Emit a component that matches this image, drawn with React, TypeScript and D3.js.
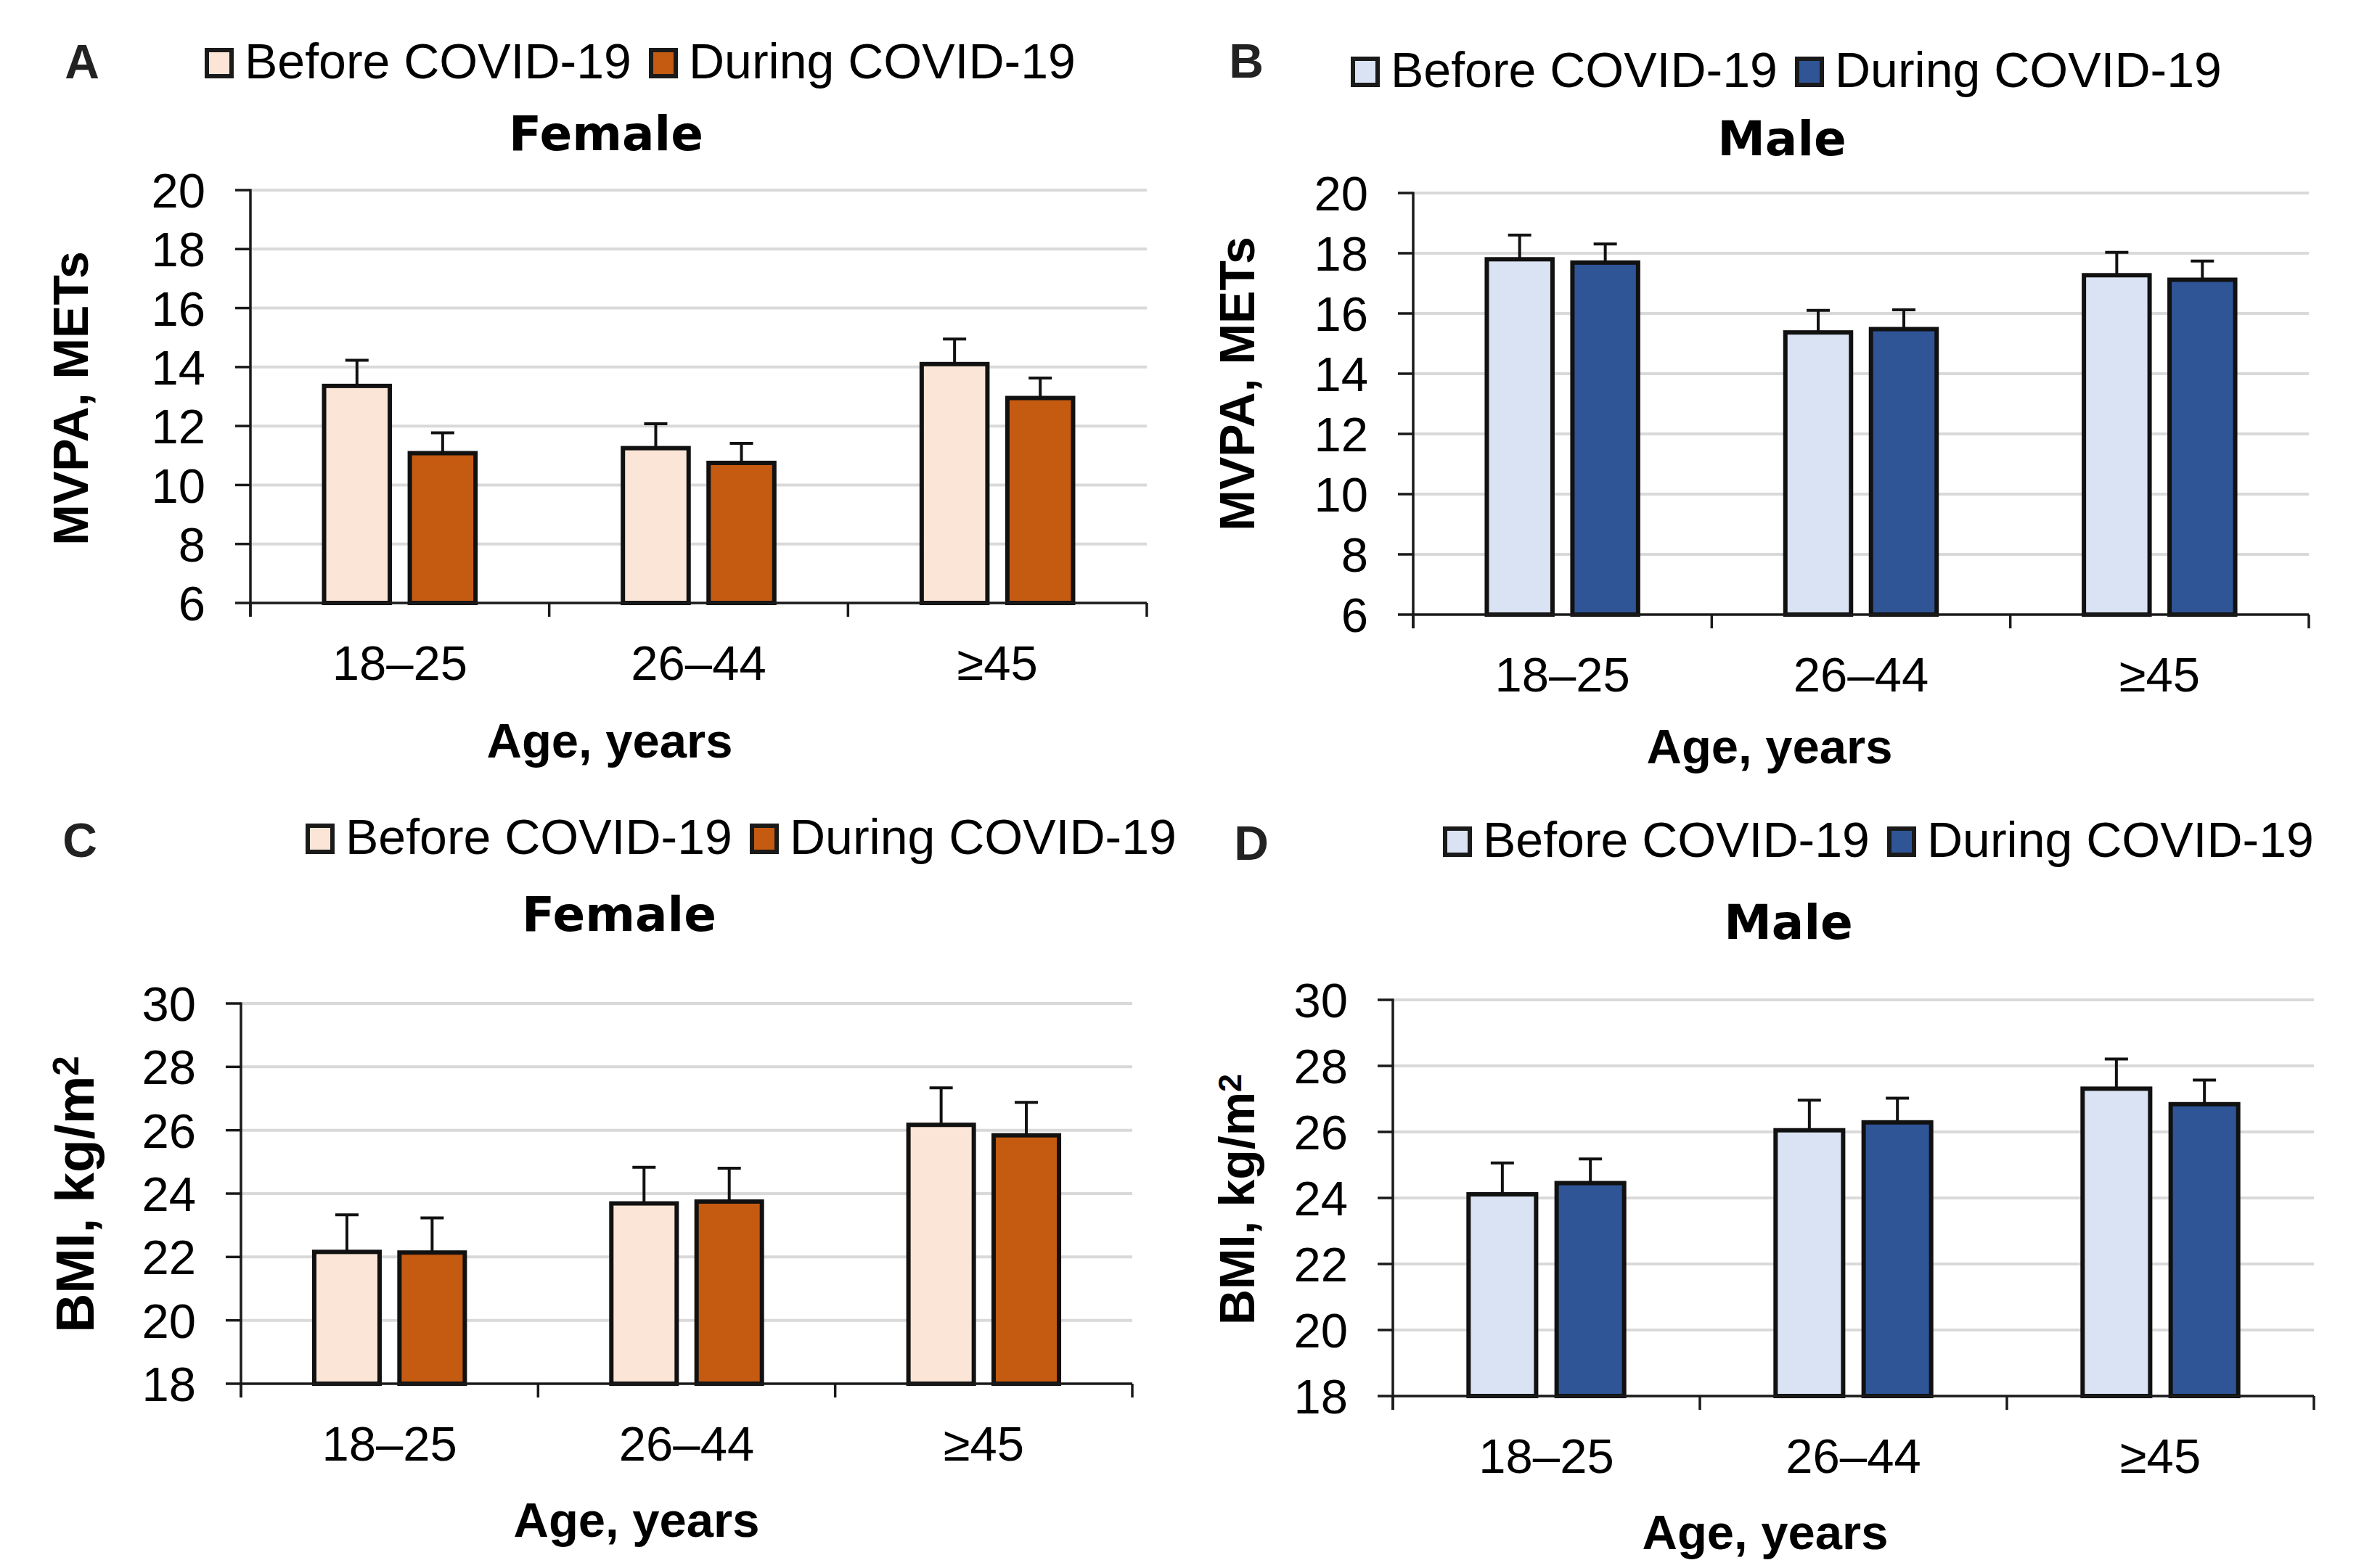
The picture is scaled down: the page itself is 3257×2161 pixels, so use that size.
import React from "react";
import * as d3 from "d3";

// ---------- data ----------
const categories = ["18–25", "26–44", "≥45"];
const seriesNames = ["Before COVID-19", "During COVID-19"];
const mvpaTicks = [6, 8, 10, 12, 14, 16, 18, 20];
const bmiTicks = [18, 20, 22, 24, 26, 28, 30];

const femaleMvpaBefore = [13.36, 11.25, 14.1];
const femaleMvpaBeforeErr = [0.87, 0.83, 0.85];
const femaleMvpaDuring = [11.08, 10.75, 12.95];
const femaleMvpaDuringErr = [0.69, 0.66, 0.68];

const maleMvpaBefore = [17.8, 15.37, 17.27];
const maleMvpaBeforeErr = [0.8, 0.73, 0.76];
const maleMvpaDuring = [17.69, 15.48, 17.12];
const maleMvpaDuringErr = [0.62, 0.64, 0.62];

const femaleBmiBefore = [22.16, 23.69, 26.17];
const femaleBmiBeforeErr = [1.17, 1.14, 1.17];
const femaleBmiDuring = [22.14, 23.75, 25.84];
const femaleBmiDuringErr = [1.09, 1.05, 1.04];

const maleBmiBefore = [24.11, 26.05, 27.31];
const maleBmiBeforeErr = [0.95, 0.91, 0.9];
const maleBmiDuring = [24.45, 26.29, 26.84];
const maleBmiDuringErr = [0.73, 0.73, 0.73];

// ---------- style ----------
const FONT = "'Liberation Sans', Arial, sans-serif";
const TITLE_FONT = "'DejaVu Sans', sans-serif";
const ORANGE = ["#fbe5d6", "#c55a11"];
const BLUE = ["#dae3f3", "#2f5597"];
const INK = "#111111";

type Panel = {
  letter: string;
  letterX: number;
  letterY: number;
  title: string;
  titleX: number;
  titleY: number;
  legendX: number;
  legendY: number;
  x0: number;
  x1: number;
  yTop: number;
  yBot: number;
  ticks: number[];
  yLabel: string;
  sup: boolean;
  yLabelX: number;
  yLabelY: number;
  yLabelSize: number;
  xTitleX: number;
  xTitleY: number;
  colors: string[];
  values: number[][];
  errors: number[][];
};

const panels: Panel[] = [
  {
    letter: "A", letterX: 113, letterY: 84,
    title: "Female", titleX: 835, titleY: 207,
    legendX: 282, legendY: 87,
    x0: 345, x1: 1580, yTop: 262, yBot: 831,
    ticks: mvpaTicks, yLabel: "MVPA, METs", sup: false,
    yLabelX: 97, yLabelY: 549, yLabelSize: 68,
    xTitleX: 840, xTitleY: 1044,
    colors: ORANGE,
    values: [femaleMvpaBefore, femaleMvpaDuring],
    errors: [femaleMvpaBeforeErr, femaleMvpaDuringErr],
  },
  {
    letter: "B", letterX: 1717, letterY: 83,
    title: "Male", titleX: 2455, titleY: 214,
    legendX: 1861, legendY: 99,
    x0: 1947, x1: 3181, yTop: 266, yBot: 847,
    ticks: mvpaTicks, yLabel: "MVPA, METs", sup: false,
    yLabelX: 1704, yLabelY: 529, yLabelSize: 68,
    xTitleX: 2438, xTitleY: 1052,
    colors: BLUE,
    values: [maleMvpaBefore, maleMvpaDuring],
    errors: [maleMvpaBeforeErr, maleMvpaDuringErr],
  },
  {
    letter: "C", letterX: 110, letterY: 1157,
    title: "Female", titleX: 853, titleY: 1283,
    legendX: 421, legendY: 1156,
    x0: 332, x1: 1560, yTop: 1383, yBot: 1907,
    ticks: bmiTicks, yLabel: "BMI, kg/m", sup: true,
    yLabelX: 102, yLabelY: 1646, yLabelSize: 75,
    xTitleX: 877, xTitleY: 2118,
    colors: ORANGE,
    values: [femaleBmiBefore, femaleBmiDuring],
    errors: [femaleBmiBeforeErr, femaleBmiDuringErr],
  },
  {
    letter: "D", letterX: 1724, letterY: 1161,
    title: "Male", titleX: 2464, titleY: 1294,
    legendX: 1988, legendY: 1160,
    x0: 1919, x1: 3188, yTop: 1378, yBot: 1924,
    ticks: bmiTicks, yLabel: "BMI, kg/m", sup: true,
    yLabelX: 1704, yLabelY: 1653, yLabelSize: 68,
    xTitleX: 2432, xTitleY: 2135,
    colors: BLUE,
    values: [maleBmiBefore, maleBmiDuring],
    errors: [maleBmiBeforeErr, maleBmiDuringErr],
  },
];

function PanelChart({ p }: { p: Panel }) {
  const yMin = p.ticks[0];
  const yMax = p.ticks[p.ticks.length - 1];
  const y = d3.scaleLinear().domain([yMin, yMax]).range([p.yBot, p.yTop]);
  const x = d3.scaleBand<string>().domain(categories).range([p.x0, p.x1]).paddingInner(0).paddingOuter(0);
  const bw = x.bandwidth();
  const inner = d3.scaleBand<string>().domain(seriesNames).range([0, bw]).paddingInner(0.233).paddingOuter(0.86);
  const w = inner.bandwidth();
  const boundaries = [...categories.map((c) => x(c) as number), p.x1];
  const capHalf = 16;

  return (
    <g>
      {/* panel letter */}
      <text x={p.letterX} y={p.letterY} dy="0.36em" textAnchor="middle" fontFamily={FONT} fontWeight="bold" fontSize={66} fill="#222">
        {p.letter}
      </text>

      {/* legend */}
      {seriesNames.map((s, i) => {
        const bx = p.legendX + i * 612;
        return (
          <g key={s}>
            <rect x={bx + 3} y={p.legendY - 18} width={34} height={36} fill={p.colors[i]} stroke="#1a1a1a" strokeWidth={6} />
            <text x={bx + 55} y={p.legendY + 21} fontFamily={FONT} fontSize={68} fill="#000">
              {s}
            </text>
          </g>
        );
      })}

      {/* title */}
      <text x={p.titleX} y={p.titleY} textAnchor="middle" fontFamily={TITLE_FONT} fontWeight="bold" fontSize={66} fill="#000">
        {p.title}
      </text>

      {/* gridlines */}
      {p.ticks.slice(1).map((t) => (
        <line key={"g" + t} x1={p.x0} x2={p.x1} y1={y(t)} y2={y(t)} stroke="#d9d9d9" strokeWidth={4} />
      ))}

      {/* bars */}
      {categories.map((c, ci) =>
        seriesNames.map((s, si) => {
          const bx = (x(c) as number) + (inner(s) as number);
          const v = p.values[si][ci];
          return (
            <rect
              key={c + s}
              x={bx}
              y={y(v)}
              width={w}
              height={y(yMin) - y(v)}
              fill={p.colors[si]}
              stroke={INK}
              strokeWidth={6}
            />
          );
        })
      )}

      {/* error bars */}
      {categories.map((c, ci) =>
        seriesNames.map((s, si) => {
          const cx = (x(c) as number) + (inner(s) as number) + w / 2;
          const v = p.values[si][ci];
          const e = p.errors[si][ci];
          return (
            <g key={"e" + c + s} stroke={INK} strokeWidth={4}>
              <line x1={cx} x2={cx} y1={y(v)} y2={y(v + e)} />
              <line x1={cx - capHalf} x2={cx + capHalf} y1={y(v + e)} y2={y(v + e)} />
            </g>
          );
        })
      )}

      {/* y axis */}
      <line x1={p.x0} x2={p.x0} y1={p.yTop - 1.5} y2={p.yBot + 19} stroke="#1a1a1a" strokeWidth={3.5} />
      {p.ticks.map((t) => (
        <g key={"t" + t}>
          <line x1={p.x0 - 21} x2={p.x0} y1={y(t)} y2={y(t)} stroke="#1a1a1a" strokeWidth={3.5} />
          <text x={p.x0 - 62} y={y(t)} dy="0.36em" textAnchor="end" fontFamily={FONT} fontSize={67} fill="#000">
            {t}
          </text>
        </g>
      ))}

      {/* x axis */}
      <line x1={p.x0} x2={p.x1} y1={p.yBot} y2={p.yBot} stroke="#1a1a1a" strokeWidth={3.5} />
      {boundaries.map((bx, i) => (
        <line key={"xb" + i} x1={bx} x2={bx} y1={p.yBot} y2={p.yBot + 19} stroke="#1a1a1a" strokeWidth={3.5} />
      ))}
      {categories.map((c) => (
        <text key={"xl" + c} x={(x(c) as number) + bw / 2} y={p.yBot + 106} textAnchor="middle" fontFamily={FONT} fontSize={67} fill="#000">
          {c}
        </text>
      ))}

      {/* x axis title */}
      <text x={p.xTitleX} y={p.xTitleY} textAnchor="middle" fontFamily={FONT} fontWeight="bold" fontSize={67} fill="#000">
        Age, years
      </text>

      {/* y axis title */}
      <text
        transform={`translate(${p.yLabelX},${p.yLabelY}) rotate(-90)`}
        dy="0.36em"
        textAnchor="middle"
        fontFamily={FONT}
        fontWeight="bold"
        fontSize={p.yLabelSize}
        fill="#000"
      >
        {p.yLabel}
        {p.sup ? (
          <tspan dy="-0.42em" fontSize={p.yLabelSize * 0.66}>
            2
          </tspan>
        ) : null}
      </text>
    </g>
  );
}

export default function App() {
  return (
    <svg
      width={3257}
      height={2161}
      viewBox="0 0 3257 2161"
      style={{ position: "absolute", left: 0, top: 0, background: "#fff" }}
    >
      <rect x={0} y={0} width={3257} height={2161} fill="#fff" />
      {panels.map((p) => (
        <PanelChart key={p.letter} p={p} />
      ))}
    </svg>
  );
}
